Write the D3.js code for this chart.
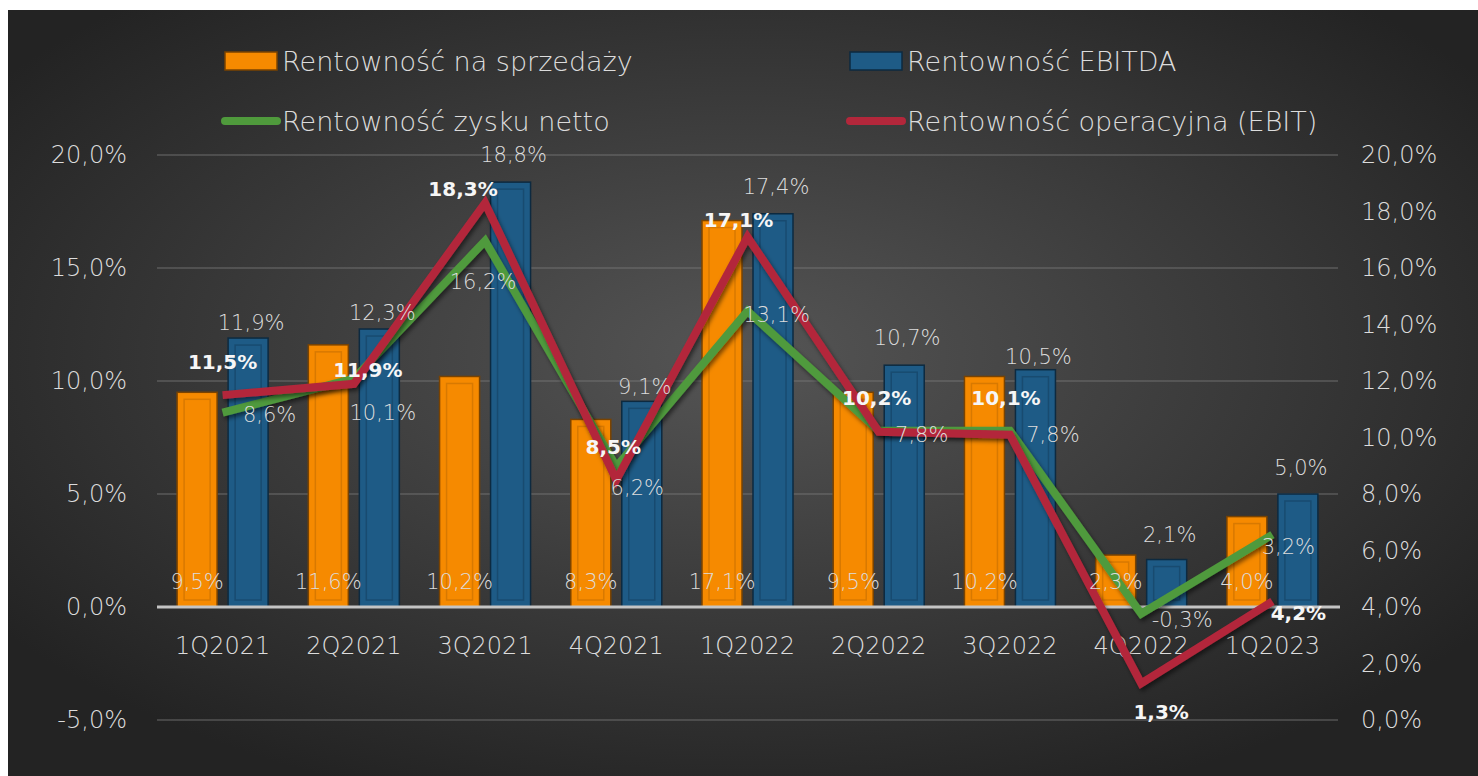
<!DOCTYPE html>
<html>
<head>
<meta charset="utf-8">
<script src="https://cdn.jsdelivr.net/npm/d3@7"></script>
<style>
  html, body { margin: 0; padding: 0; background: #fff; }
  svg { display: block; }
  text { font-family: "DejaVu Sans", sans-serif; }
</style>
</head>
<body>
<svg id="chart" width="1478" height="776"></svg>
<script>
// quarters and the four profitability series (in %)
const quarters = ["1Q2021", "2Q2021", "3Q2021", "4Q2021", "1Q2022", "2Q2022", "3Q2022", "4Q2022", "1Q2023"];
const salesMargin = [9.5, 11.6, 10.2, 8.3, 17.1, 9.5, 10.2, 2.3, 4.0];     // Rentowność na sprzedaży (left axis)
const ebitdaMargin = [11.9, 12.3, 18.8, 9.1, 17.4, 10.7, 10.5, 2.1, 5.0];  // Rentowność EBITDA (left axis)
const netMargin = [8.6, 10.1, 16.2, 6.2, 13.1, 7.8, 7.8, -0.3, 3.2];       // Rentowność zysku netto (left axis)
const ebitMargin = [11.5, 11.9, 18.3, 8.5, 17.1, 10.2, 10.1, 1.3, 4.2];    // Rentowność operacyjna (right axis)
const leftTicks = [-5, 0, 5, 10, 15, 20];
const rightTicks = [0, 2, 4, 6, 8, 10, 12, 14, 16, 18, 20];

// hand-placed label nudges (px) as in the original sheet
const ebitLabelNudge = [[0, -33], [14, -14], [-22, -14], [-3, -33], [-9, -17], [-2, -34], [-4, -37], [20, 29], [26, 12]];
const netLabelNudge = [[47, 2], [29, 34], [-2, 41], [21, 21], [29, 4], [43, 4], [43, 4], [41, 6], [16, 12]];
const ebitdaLabelGap = [15, 16, 27, 14, 27, 27, 13, 25, 26];

const C = {
  orange: "#f68a00", orangeEdge: "#7a4300", orangeInner: "#d87900",
  blue: "#1e5b86", blueEdge: "#0d2a40", blueInner: "#184b70",
  green: "#4f9a3c", red: "#b3273b",
  text: "#dcdcdc", bold: "#f6f6f6"
};

const pl = d3.formatLocale({decimal: ",", thousands: " ", grouping: [3], currency: ["", " zł"], minus: "-"});
const pct = v => pl.format(".1f")(v) + "%";

const svg = d3.select("#chart");
const defs = svg.append("defs");

const bg = defs.append("radialGradient").attr("id", "bg")
  .attr("cx", "50%").attr("cy", "45%").attr("r", "62%");
bg.append("stop").attr("offset", "0%").attr("stop-color", "#555555");
bg.append("stop").attr("offset", "100%").attr("stop-color", "#232323");

defs.append("filter").attr("id", "shadow")
  .attr("x", "-10%").attr("y", "-10%").attr("width", "120%").attr("height", "130%")
  .append("feDropShadow")
  .attr("dx", 2).attr("dy", 3).attr("stdDeviation", 2)
  .attr("flood-color", "#000").attr("flood-opacity", 0.5);

svg.append("rect")
  .attr("x", 8).attr("y", 10).attr("width", 1470).attr("height", 766)
  .attr("fill", "url(#bg)");

const plot = {left: 157, right: 1338, top: 155, bottom: 720};

const x = d3.scaleBand().domain(quarters).range([plot.left, plot.right]);
const yL = d3.scaleLinear().domain([-5, 20]).range([plot.bottom, plot.top]);
const yR = d3.scaleLinear().domain([0, 20]).range([plot.bottom, plot.top]);
const xc = i => x(quarters[i]) + x.bandwidth() / 2;

const barW = 40, barOff = 25.5;

// gridlines
svg.append("g")
  .selectAll("line")
  .data(leftTicks.filter(d => d !== 0))
  .join("line")
  .attr("x1", plot.left).attr("x2", plot.right)
  .attr("y1", d => yL(d)).attr("y2", d => yL(d))
  .attr("stroke", "#7a7a7a").attr("stroke-opacity", 0.55).attr("stroke-width", 1.5);

// axes
const leftAxis = svg.append("g")
  .attr("transform", `translate(${plot.left - 27},0)`)
  .call(d3.axisLeft(yL).tickValues(leftTicks).tickSize(0).tickFormat(d => pl.format(".1f")(d) + "%"));
const rightAxis = svg.append("g")
  .attr("transform", `translate(${plot.right + 20},0)`)
  .call(d3.axisRight(yR).tickValues(rightTicks).tickSize(0).tickFormat(d => pl.format(".1f")(d) + "%"));
[leftAxis, rightAxis].forEach(a => {
  a.select(".domain").remove();
  a.selectAll("text")
    .attr("fill", C.text).attr("font-size", 24).attr("font-weight", 200)
    .attr("font-family", "DejaVu Sans, sans-serif");
});

// category labels
svg.append("g")
  .selectAll("text")
  .data(quarters)
  .join("text")
  .attr("x", (d, i) => xc(i))
  .attr("y", 654)
  .attr("text-anchor", "middle")
  .attr("fill", C.text).attr("font-size", 24).attr("font-weight", 200)
  .text(d => d);

// bars
function drawBars(values, dx, fill, edge, inner) {
  const g = svg.append("g");
  const bars = g.selectAll("g")
    .data(values)
    .join("g");
  bars.append("rect")
    .attr("x", (d, i) => xc(i) + dx - barW / 2)
    .attr("y", d => yL(Math.max(0, d)))
    .attr("width", barW)
    .attr("height", d => Math.abs(yL(d) - yL(0)))
    .attr("fill", fill).attr("stroke", edge).attr("stroke-width", 1.5);
  bars.append("rect")
    .attr("x", (d, i) => xc(i) + dx - barW / 2 + 7)
    .attr("y", d => yL(Math.max(0, d)) + 7)
    .attr("width", barW - 14)
    .attr("height", d => Math.max(0, Math.abs(yL(d) - yL(0)) - 14))
    .attr("fill", "none").attr("stroke", inner).attr("stroke-width", 1.5);
}
drawBars(salesMargin, -barOff, C.orange, C.orangeEdge, C.orangeInner);
drawBars(ebitdaMargin, barOff, C.blue, C.blueEdge, C.blueInner);

// zero line
svg.append("line")
  .attr("x1", plot.left).attr("x2", plot.right + 2)
  .attr("y1", yL(0)).attr("y2", yL(0))
  .attr("stroke", "#c4c4c4").attr("stroke-width", 3);

// lines
const netLine = d3.line().x((d, i) => xc(i)).y(d => yL(d));
const ebitLine = d3.line().x((d, i) => xc(i)).y(d => yR(d));
svg.append("path").datum(netMargin)
  .attr("d", netLine).attr("fill", "none")
  .attr("stroke", C.green).attr("stroke-width", 8).attr("stroke-linejoin", "miter")
  .attr("filter", "url(#shadow)");
svg.append("path").datum(ebitMargin)
  .attr("d", ebitLine).attr("fill", "none")
  .attr("stroke", C.red).attr("stroke-width", 8).attr("stroke-linejoin", "miter")
  .attr("filter", "url(#shadow)");

// data labels
const labels = svg.append("g")
  .attr("font-size", 21)
  .attr("text-anchor", "middle")
  .attr("dominant-baseline", "central");

labels.append("g").selectAll("text")
  .data(salesMargin).join("text")
  .attr("x", (d, i) => xc(i) - barOff)
  .attr("y", 582)
  .attr("fill", C.text).attr("font-weight", 200)
  .text(d => pct(d));

labels.append("g").selectAll("text")
  .data(ebitdaMargin).join("text")
  .attr("x", (d, i) => xc(i) + barOff + 3)
  .attr("y", (d, i) => yL(d) - ebitdaLabelGap[i])
  .attr("fill", C.text).attr("font-weight", 200)
  .text(d => pct(d));

labels.append("g").selectAll("text")
  .data(netMargin).join("text")
  .attr("x", (d, i) => xc(i) + netLabelNudge[i][0])
  .attr("y", (d, i) => yL(d) + netLabelNudge[i][1])
  .attr("fill", C.text).attr("font-weight", 200)
  .text(d => pct(d));

labels.append("g").selectAll("text")
  .data(ebitMargin).join("text")
  .attr("x", (d, i) => xc(i) + ebitLabelNudge[i][0])
  .attr("y", (d, i) => yR(d) + ebitLabelNudge[i][1])
  .attr("fill", C.bold).attr("font-weight", "bold").attr("font-size", 20)
  .text(d => pct(d));

// legend
const legendItems = [
  {name: "Rentowność na sprzedaży", type: "rect", color: C.orange, edge: C.orangeEdge, x: 225, y: 61},
  {name: "Rentowność EBITDA", type: "rect", color: C.blue, edge: C.blueEdge, x: 850, y: 61},
  {name: "Rentowność zysku netto", type: "line", color: C.green, x: 225, y: 121},
  {name: "Rentowność operacyjna (EBIT)", type: "line", color: C.red, x: 850, y: 121}
];
const leg = svg.append("g").selectAll("g")
  .data(legendItems).join("g")
  .attr("transform", d => `translate(${d.x},${d.y})`);
leg.filter(d => d.type === "rect").append("rect")
  .attr("x", 0).attr("y", -9).attr("width", 52).attr("height", 18)
  .attr("fill", d => d.color).attr("stroke", d => d.edge).attr("stroke-width", 1.5);
leg.filter(d => d.type === "line").append("line")
  .attr("x1", 0).attr("x2", 52).attr("y1", 0).attr("y2", 0)
  .attr("stroke", d => d.color).attr("stroke-width", 8).attr("stroke-linecap", "round");
leg.append("text")
  .attr("x", 57).attr("y", 0)
  .attr("dominant-baseline", "central")
  .attr("fill", C.text).attr("font-size", 27).attr("font-weight", 200)
  .text(d => d.name);
</script>
</body>
</html>
